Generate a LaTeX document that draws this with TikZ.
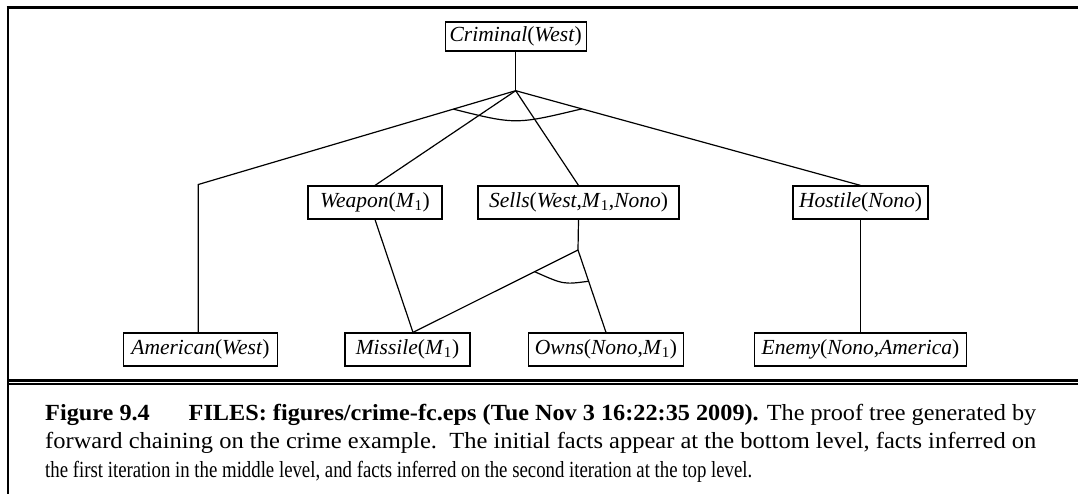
\documentclass[tikz,border=0pt]{standalone}
\usepackage{fontspec}
\setmainfont{Liberation Serif}
\usepackage{graphicx}
\usetikzlibrary{calc}
\newcommand\Mo{\textit{M}\textsubscript{1}}
\newcommand\capsz{\fontsize{21}{25}\selectfont}
\tikzset{
  fact/.style={draw, line width=1.2pt, minimum height=33pt, inner xsep=3pt, inner ysep=0pt,
               font=\fontsize{21.5}{25}\selectfont},
  link/.style={line width=1.2pt},
  capline/.style={anchor=base west, inner sep=0pt},
}
\begin{document}
\begin{tikzpicture}[x=1pt,y=-1pt]
\useasboundingbox (0,0) rectangle (1078,494);
% frame
\draw[line width=3pt] (6.7,7.5) -- (1078,7.5);
\draw[line width=2.5pt] (8,6.2) -- (8,494);
\draw[line width=3pt] (8,380.5) -- (1078,380.5);
\draw[line width=2pt] (8,384.3) -- (1078,384.3);
% nodes
\node[fact, minimum width=141pt, minimum height=29pt] (crim) at (515.7,36.5) {\textit{Criminal}(\textit{West})};
\node[fact, minimum width=134pt] (weapon) at (375,202.5) {\textit{Weapon}(\Mo)};
\node[fact, minimum width=201pt] (sells) at (578.5,202.5) {\textit{Sells}(\textit{West},\Mo,\textit{Nono})};
\node[fact, minimum width=135pt] (hostile) at (860.5,202.5) {\textit{Hostile}(\textit{Nono})};
\node[fact, minimum width=154pt] (american) at (200.5,349.5) {\textit{American}(\textit{West})};
\node[fact, minimum width=125pt] (missile) at (407.5,349.5) {\textit{Missile}(\Mo)};
\node[fact, minimum width=155pt] (owns) at (606,349.5) {\textit{Owns}(\textit{Nono},\Mo)};
\node[fact, minimum width=212pt] (enemy) at (860.5,349.5) {\textit{Enemy}(\textit{Nono},\textit{America})};
% junctions
\coordinate (apex) at (515.7,90.7);
\coordinate (amturn) at (198.3,184.5);
\coordinate (fork) at (578,250);
\coordinate (mtop) at ([xshift=5.5pt]missile.north);
% connectors
\draw[link] (crim.south) -- (apex);
\draw[link] (apex) -- (amturn) -- (amturn |- american.north);
\draw[link] (apex) -- (weapon.north);
\draw[link] (apex) -- (sells.north);
\draw[link] (apex) -- (hostile.north);
\draw[link] ($(apex)!0.1966!(amturn)$) .. controls ($(apex)+(0,34)$) .. ($(apex)!0.1917!(hostile.north)$);
\draw[link] (weapon.south) -- (mtop);
\draw[link] (sells.south) -- (fork) -- (mtop);
\draw[link] (fork) -- (owns.north);
\draw[link] ($(fork)!0.263!(mtop)$) .. controls ($(fork)+(-14.4,34.6)$) .. ($(fork)!0.379!(owns.north)$);
\draw[link] (hostile.south) -- (enemy.north);
% caption
\node[capline] (cap1) at (45,420) {\resizebox{991pt}{1.1\height}{\capsz\textbf{Figure 9.4}\hspace{1.6em}\textbf{FILES: figures/crime-fc.eps (Tue Nov 3 16:22:35 2009).} The proof tree generated by}};
\node[capline] (cap2) at (45,448.5) {\resizebox{991pt}{1.1\height}{\capsz forward chaining on the crime example.\ \ The initial facts appear at the bottom level, facts inferred on}};
\node[capline] (cap3) at (45,477) {\resizebox{707pt}{1.1\height}{\capsz the first iteration in the middle level, and facts inferred on the second iteration at the top level.}};
\end{tikzpicture}
\end{document}
